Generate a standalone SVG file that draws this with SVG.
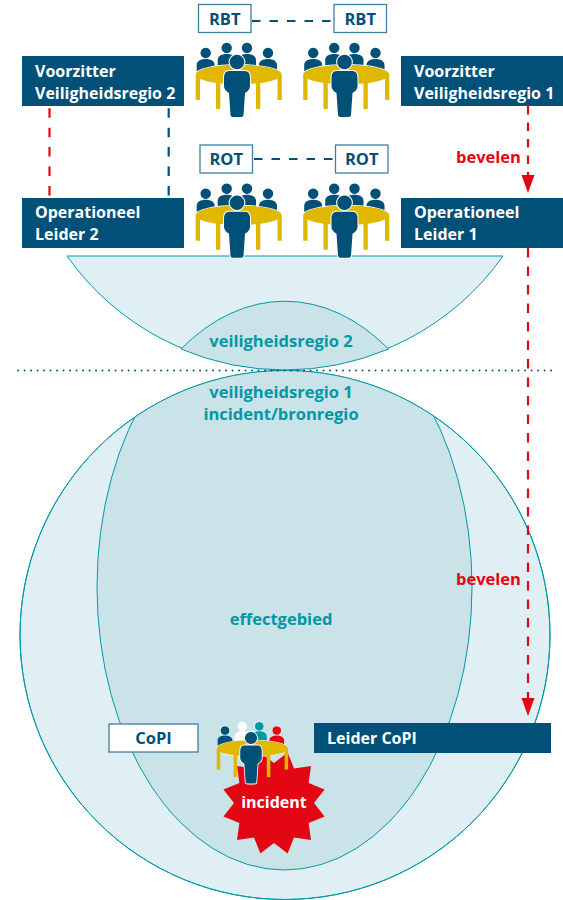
<svg xmlns="http://www.w3.org/2000/svg" width="563" height="900" viewBox="0 0 563 900">
<style>
text{font-family:"Open Sans","Noto Sans","Liberation Sans",sans-serif;font-weight:700;font-size:16px}
.w{fill:#fff}.n{fill:#005078;font-size:16.5px}.t{fill:#0097a7;text-anchor:middle;font-size:16.5px}.r{fill:#e30613}.m{text-anchor:middle}
.bev{font-size:16.5px}
.box{fill:#005078}.lab{fill:#fff;stroke:#3f7f9f;stroke-width:1.3}
.light{fill:#dfeff3;stroke:#009aa8;stroke-width:1}.dark{fill:#c9e3e8;stroke:#009aa8;stroke-width:1}
.dr{fill:none;stroke:#e30613;stroke-width:2.2}.db{fill:none;stroke:#005078;stroke-width:2.2}
</style>
<defs>
<clipPath id="cc"><ellipse cx="285" cy="635" rx="265" ry="264.5"/></clipPath>
<path id="back" d="M0,-5.2A5.2,5.2 0 1 1 -0.01,-5.2ZM-9,18V12C-9,8 -5,6 0,6C5,6 9,8 9,12V18Z" stroke="#fff" stroke-width="1" paint-order="stroke"/>
<g id="tbl" fill="#e0b800"><ellipse cx="238.7" cy="74.5" rx="43" ry="9.8" stroke="#fff" stroke-width="1.2" paint-order="stroke"/><path d="M195.7,75h4.3v25h-4.3zM216,80h4.3v29h-4.3zM256,80h4.3v29h-4.3zM277.5,75h4.3v25h-4.3z"/></g>
<path id="front" d="M0,-7.3A7.3,7.3 0 1 1 -0.01,-7.3ZM-8,9H8Q13,9 13,16V24Q13,28 8,31L6.5,53Q6.5,55 4,55H-4Q-6.5,55 -6.5,53L-8,31Q-13,28 -13,24V16Q-13,9 -8,9Z" fill="#005078" stroke="#fff" stroke-width="2" paint-order="stroke"/>
<g id="team"><use href="#back" x="205.7" y="53" fill="#005078"/><use href="#back" x="226.7" y="48" fill="#005078"/><use href="#back" x="247" y="48" fill="#005078"/><use href="#back" x="268" y="53" fill="#005078"/><use href="#tbl"/><use href="#front" x="237" y="62"/></g>
</defs>
<g id="region-2">
<path class="light" d="M67,256H503A266.8,266.8 0 0 1 67,256Z"/>
<path class="dark" d="M181,349A187.5,286 0 0 1 388.5,349A266.8,266.8 0 0 1 181,349Z"/>
<text class="t" x="281" y="347">veiligheidsregio 2</text>
</g>
<g id="region-1">
<ellipse class="light" cx="285" cy="635" rx="265" ry="264.5"/>
<g clip-path="url(#cc)"><ellipse class="dark" cx="284.5" cy="587" rx="187.5" ry="283"/></g>
<ellipse cx="285" cy="635" rx="265" ry="264.5" fill="none" stroke="#009aa8" stroke-width="1"/>
<text class="t" x="281" y="398">veiligheidsregio 1</text>
<text class="t" x="281" y="420">incident/bronregio</text>
<text class="t" x="281" y="625">effectgebied</text>
</g>
<g id="connectors">
<path d="M18,370.5H553" fill="none" stroke="#005078" stroke-width="1.8" stroke-linecap="round" stroke-dasharray="0.1 6.4"/>
<path class="dr" stroke-dasharray="9.5 9.9" d="M49.5,108.3V197"/>
<path class="db" stroke-dasharray="9.5 9.9" d="M168.7,108.3V197"/>
<path class="db" stroke-dasharray="8.5 9" d="M252,21H332"/>
<path class="db" stroke-dasharray="8.5 9" d="M254,159H334"/>
<path class="dr" stroke-dasharray="8.5 8" d="M528,106V178"/>
<path d="M521.5,175H534.5L528,193Z" fill="#e30613"/>
<path class="dr" stroke-dasharray="9.5 9" d="M528,248V700"/>
<path d="M521.5,698H534.5L528,716Z" fill="#e30613"/>
<text class="r bev" x="456" y="163">bevelen</text>
<text class="r bev" x="456" y="585">bevelen</text>
</g>
<g id="rbt-left"><rect class="lab" x="198.5" y="4.5" width="52.5" height="28"/><text class="n m" x="224.7" y="25">RBT</text></g>
<g id="rbt-right"><rect class="lab" x="334" y="4.5" width="52.5" height="28"/><text class="n m" x="360.2" y="25">RBT</text></g>
<g id="rot-left"><rect class="lab" x="200" y="145" width="52.5" height="28"/><text class="n m" x="226.2" y="165">ROT</text></g>
<g id="rot-right"><rect class="lab" x="335.5" y="145" width="52.5" height="28"/><text class="n m" x="361.7" y="165">ROT</text></g>
<g id="team-rbt-2"><use href="#team"/></g>
<g id="team-rbt-1"><use href="#team" x="107.5"/></g>
<g id="team-rot-2"><use href="#team" y="140.7"/></g>
<g id="team-rot-1"><use href="#team" x="107.5" y="140.7"/></g>
<g id="voorzitter-2"><rect class="box" x="22" y="56" width="162" height="50"/><text class="w" x="35" y="77">Voorzitter</text><text class="w" x="35" y="99">Veiligheidsregio 2</text></g>
<g id="voorzitter-1"><rect class="box" x="401" y="56" width="162" height="50"/><text class="w" x="414" y="77">Voorzitter</text><text class="w" x="414" y="99">Veiligheidsregio 1</text></g>
<g id="leider-2"><rect class="box" x="22" y="198" width="162" height="50"/><text class="w" x="35" y="218">Operationeel</text><text class="w" x="35" y="240">Leider 2</text></g>
<g id="leider-1"><rect class="box" x="401" y="198" width="162" height="50"/><text class="w" x="414" y="218">Operationeel</text><text class="w" x="414" y="240">Leider 1</text></g>
<g id="incident"><path class="r" d="M314,803L324.6,816.6L308.6,823L311,840L294,837.6L287.6,853.6L274,843L260.4,853.6L254,837.6L237,840L239.4,823L223.4,816.6L234,803L223.4,789.4L239.4,783L237,766L254,768.4L260.4,752.4L274,763L287.6,752.4L294,768.4L311,766L308.6,783L324.6,789.4Z"/><text class="w m" x="274" y="808">incident</text></g>
<g id="copi"><rect class="lab" x="109" y="724" width="89" height="28"/><text class="n m" x="153.5" y="744">CoPI</text></g>
<g id="leider-copi"><rect class="box" x="314" y="723" width="237" height="30"/><text class="w" x="327" y="744">Leider CoPI</text></g>
<g id="team-copi" transform="translate(54.3 686.5) scale(.83)"><use href="#back" x="205.7" y="53" fill="#005078"/><use href="#back" x="226.7" y="48" fill="#fff"/><use href="#back" x="247" y="48" fill="#0097a7"/><use href="#back" x="268" y="53" fill="#e30613"/><use href="#tbl"/><use href="#front" x="237" y="62"/></g>
</svg>
